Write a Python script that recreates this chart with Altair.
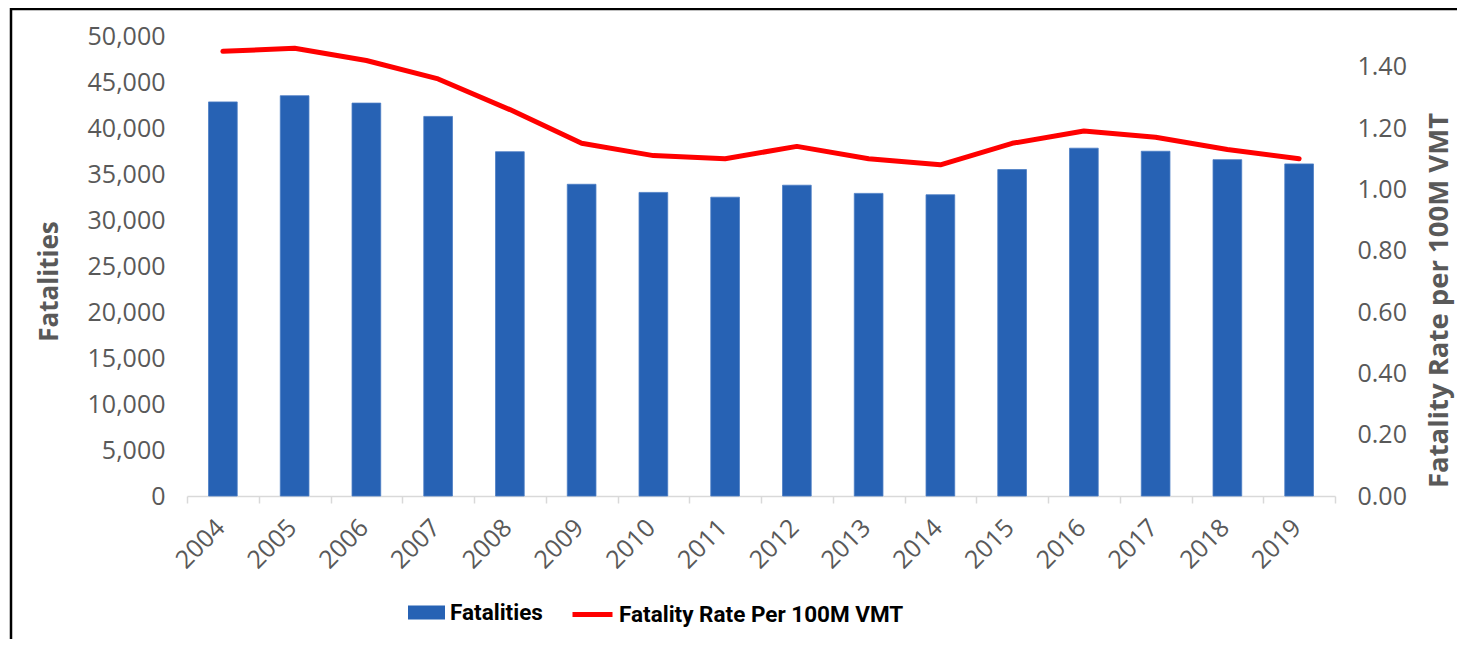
import altair as alt
import pandas as pd

years = ["2004", "2005", "2006", "2007", "2008", "2009", "2010", "2011",
         "2012", "2013", "2014", "2015", "2016", "2017", "2018", "2019"]
fatalities = [42836, 43510, 42708, 41259, 37423, 33883, 32999, 32479,
              33782, 32893, 32744, 35484, 37806, 37473, 36560, 36096]
rates = [1.45, 1.46, 1.42, 1.36, 1.26, 1.15, 1.11, 1.10,
         1.14, 1.10, 1.08, 1.15, 1.19, 1.17, 1.13, 1.10]
bar_series = "Fatalities"
line_series = "Fatality Rate Per 100M VMT"

df = pd.DataFrame({
    "year": years,
    "fatalities": fatalities,
    "rate": rates,
    "bar_name": [bar_series] * len(years),
    "line_name": [line_series] * len(years),
})

W, H = 1148, 460
GRAY = "#595959"
LABEL_FONT = "Open Sans"
TITLE_FONT = "Open Sans"
LEGEND_FONT = "Roboto"

base = alt.Chart(df).encode(
    x=alt.X(
        "year:N",
        sort=years,
        title=None,
        scale=alt.Scale(paddingInner=0, paddingOuter=0),
        axis=alt.Axis(
            labelAngle=-45,
            labelAlign="right",
            labelBaseline="alphabetic",
            labelFont=LABEL_FONT,
            labelFontSize=25,
            labelColor=GRAY,
            labelPadding=26,
            labelOffset=3,
            tickBand="extent",
            tickColor="#d9d9d9",
            tickWidth=1.5,
            tickSize=7,
            domainColor="#d9d9d9",
            domainWidth=1.5,
            grid=False,
        ),
    )
)

bars = base.mark_bar(width=alt.RelativeBandSize(0.4), stroke="#4a7cc4", strokeWidth=0.8).encode(
    y=alt.Y(
        "fatalities:Q",
        scale=alt.Scale(domain=[0, 50000]),
        axis=alt.Axis(
            orient="left",
            values=list(range(0, 50001, 5000)),
            format=",d",
            title="Fatalities",
            titleFont=TITLE_FONT,
            titleFontSize=26,
            titleFontWeight="bold",
            titleColor=GRAY,
            titleAngle=270,
            titleBaseline="alphabetic",
            titleAlign="center",
            titleX=-130,
            titleY=245,
            labelFont=LABEL_FONT,
            labelFontSize=25,
            labelColor=GRAY,
            labelPadding=22,
            ticks=False,
            tickSize=0,
            domain=False,
            grid=False,
        ),
    ),
    fill=alt.Fill(
        "bar_name:N",
        scale=alt.Scale(domain=[bar_series], range=["#2762b4"]),
        legend=alt.Legend(
            title=None,
            orient="none",
            legendX=221,
            legendY=558,
            symbolType="M-1,-0.38L1,-0.38L1,0.38L-1,0.38Z",
            symbolSize=1369,
            symbolStrokeWidth=0,
            labelFont=LEGEND_FONT,
            labelFontSize=22.5,
            labelFontWeight="bold",
            labelColor="#000000",
            labelOffset=5,
            labelLimit=0,
        ),
    ),
)

line = base.mark_line(strokeWidth=5, strokeCap="round", strokeJoin="round").encode(
    y=alt.Y(
        "rate:Q",
        scale=alt.Scale(domain=[0, 1.5]),
        axis=alt.Axis(
            orient="right",
            values=[0, 0.2, 0.4, 0.6, 0.8, 1.0, 1.2, 1.4],
            format=".2f",
            title="Fatality Rate per 100M VMT",
            titleFont=TITLE_FONT,
            titleFontSize=27.5,
            titleFontWeight="bold",
            titleColor=GRAY,
            titleAngle=270,
            titleBaseline="alphabetic",
            titleAlign="center",
            titleX=112,
            titleY=264,
            labelFont=LABEL_FONT,
            labelFontSize=25,
            labelColor=GRAY,
            labelPadding=22,
            ticks=False,
            tickSize=0,
            domain=False,
            grid=False,
        ),
    ),
    stroke=alt.Stroke(
        "line_name:N",
        scale=alt.Scale(domain=[line_series], range=["#ff0000"]),
        legend=alt.Legend(
            title=None,
            orient="none",
            legendX=383,
            legendY=556,
            symbolType="stroke",
            symbolSize=1600,
            symbolStrokeWidth=5,
            labelFont=LEGEND_FONT,
            labelFontSize=22.5,
            labelFontWeight="bold",
            labelColor="#000000",
            labelOffset=4,
            labelLimit=0,
        ),
    ),
)

frame_df = pd.DataFrame({"k": [0]})
frame_left = alt.Chart(frame_df).mark_rule(stroke="#000000", strokeWidth=2.5).encode(
    x=alt.value(-176), y=alt.value(-28), y2=alt.value(H + 300),
)
frame_top = alt.Chart(frame_df).mark_rule(stroke="#000000", strokeWidth=2.5).encode(
    x=alt.value(-177), x2=alt.value(W + 122), y=alt.value(-27),
)

chart = alt.layer(frame_left, frame_top, bars, line).resolve_scale(
    y="independent", fill="independent", stroke="independent"
).properties(
    width=W,
    height=H,
    padding={"left": 179, "top": 28, "right": 123, "bottom": 143},
    autosize=alt.AutoSizeParams(type="none"),
).configure_view(stroke=None)

chart.save("out.html", embed_options={"renderer": "svg", "actions": False})
